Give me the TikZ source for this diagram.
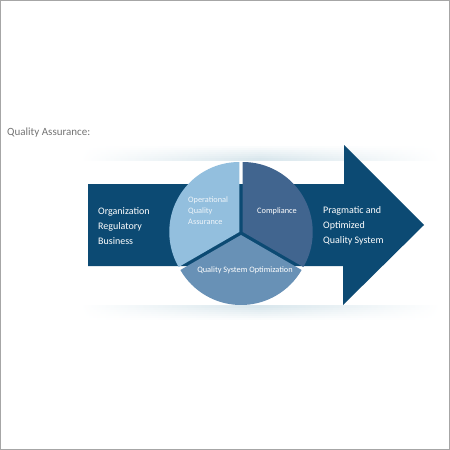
\documentclass[tikz,border=0pt]{standalone}
\usepackage{fontspec}
\setmainfont{Carlito}
\definecolor{navy}{HTML}{0C4A73}
\definecolor{pielight}{HTML}{93BFDE}
\definecolor{piedark}{HTML}{41658F}
\definecolor{piemid}{HTML}{6891B6}
\definecolor{band}{HTML}{D8E6EC}
\begin{document}
\begin{tikzpicture}[
		x=1pt, y=1pt,
		label text/.style={text=white, align=left, inner sep=0pt, anchor=west, font=\fontsize{10}{15}\selectfont},
		pie text/.style={text=white, align=left, inner sep=0pt, font=\fontsize{8.3}{11}\selectfont},
		sector/.style={draw=none}
		]
		\useasboundingbox (0,0) rectangle (450,-450);
		% Frame
		\draw[gray!70, line width=1pt] (0.5,-0.5) rectangle (449.5,-449.5);
		% Title
		\node[anchor=west, inner sep=0pt, text=gray!90!black, font=\fontsize{11}{13}\selectfont] (title) at (7,-133) {Quality Assurance:};
		% Soft bands above and below
		\foreach \k in {1,...,7} {
			\pgfmathsetmacro{\shadeval}{\k*14}
			\shade[left color=white, right color=white, middle color=band!\shadeval!white]
				(80,-144-2*\k) rectangle (440,-146-2*\k);
			\shade[left color=white, right color=white, middle color=band!\shadeval!white]
				(80,-321+2*\k) rectangle (440,-319+2*\k);
		}
		% Arrow
		\fill[navy] (88,-184) -- (344,-184) -- (344,-145) -- (424,-225)
			-- (343,-305) -- (343,-266) -- (88,-266) -- cycle;
		% Pie sectors
		\coordinate (pc) at (241,-233);
		\fill[pielight, sector] ([shift={(150:2)}]pc) -- ++(90:70) arc[start angle=90, end angle=210, radius=70] -- cycle;
		\fill[piedark, sector] ([shift={(30:2)}]pc) -- ++(-30:70) arc[start angle=-30, end angle=90, radius=70] -- cycle;
		\fill[piemid, sector] ([shift={(270:2)}]pc) -- ++(210:70) arc[start angle=210, end angle=330, radius=70] -- cycle;
		% Left and right texts
		\node[label text] (inputs) at (98,-226) {Organization\\Regulatory\\Business};
		\node[label text] (result) at (323,-226) {Pragmatic and\\Optimized\\Quality System};
		% Sector texts
		\node[pie text, anchor=west, text=white!85!pielight] (oqa) at (188,-211) {Operational\\Quality\\Assurance};
		\node[pie text] (compl) at (277,-211) {Compliance};
		\node[pie text] (qso) at (245,-270) {Quality System Optimization};
		\end{tikzpicture}
\end{document}
